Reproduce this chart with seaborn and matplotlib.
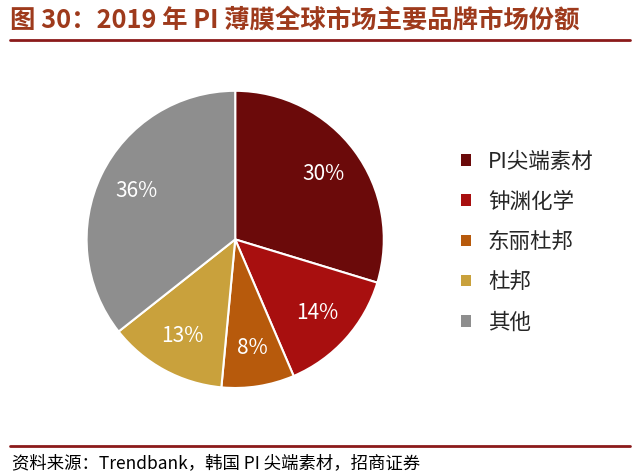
import matplotlib
matplotlib.use("Agg")
import matplotlib.pyplot as plt
import seaborn as sns
from matplotlib.lines import Line2D
from matplotlib.patches import Patch

# --- datos ---
marcas = ["PI尖端素材", "钟渊化学", "东丽杜邦", "杜邦", "其他"]
cuotas = [30, 14, 8, 13, 36]
colores = ["#6B0A0A", "#A80F0F", "#B75A0C", "#C9A13C", "#8E8E8E"]

titulo = "图 30：2019 年 PI 薄膜全球市场主要品牌市场份额"
fuente = "资料来源：Trendbank，韩国 PI 尖端素材，招商证券"

sns.set_theme(style="white")
plt.rcParams["font.family"] = ["Noto Sans CJK SC", "DejaVu Sans"]

fig = plt.figure(figsize=(6.4, 4.75), dpi=100)
fig.patch.set_facecolor("white")

# titulo y lineas
fig.text(0.016, 0.958, titulo, fontsize=18.3, fontweight="bold", color="#9E3A1C",
         ha="left", va="center")
fig.add_artist(Line2D([0.015, 0.985], [0.915, 0.915], color="#8B1A1A", lw=2))
fig.add_artist(Line2D([0.015, 0.985], [0.061, 0.061], color="#8B1A1A", lw=2))
fig.text(0.018, 0.026, fuente, fontsize=12.5, color="black", ha="left", va="center")

# pie
ax = fig.add_axes([0.133, 0.18, 0.469, 0.632])
pal = sns.color_palette(colores)
wedges, texts, autotexts = ax.pie(
    cuotas, colors=pal, startangle=90, counterclock=False,
    autopct=lambda p: f"{p:.0f}%", pctdistance=0.74,
    wedgeprops=dict(edgecolor="white", linewidth=1.5),
    textprops=dict(color="white", fontsize=15),
)
ax.set_xlim(-1.01, 1.01)
ax.set_ylim(-1.01, 1.01)
ax.set_aspect("equal")

# leyenda
handles = [Patch(facecolor=c, edgecolor="none") for c in pal]
fig.legend(handles, marcas, loc="upper left", bbox_to_anchor=(0.69, 0.724),
           frameon=False, fontsize=15.5, handlelength=0.45, handleheight=0.45,
           handletextpad=0.8, labelspacing=0.85)

fig.savefig("out.png", dpi=100, facecolor="white")
